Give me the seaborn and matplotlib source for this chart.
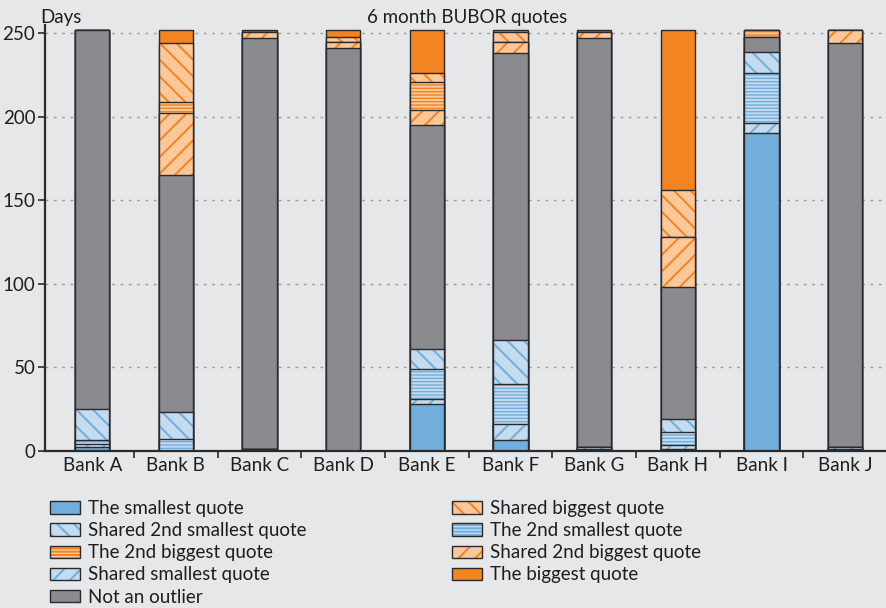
import numpy as np
import pandas as pd
import matplotlib
matplotlib.use("Agg")
import matplotlib.pyplot as plt
from matplotlib.patches import Patch
from matplotlib.ticker import FixedLocator
import seaborn as sns

# Days per bank in each quote category (bottom to top of the stack)
banks = ["Bank A", "Bank B", "Bank C", "Bank D", "Bank E",
         "Bank F", "Bank G", "Bank H", "Bank I", "Bank J"]
smallest = [2, 0, 1, 0, 28, 6, 1, 1, 190, 1]
shared_smallest = [2, 0, 0, 0, 3, 10, 1, 2, 6, 1]
second_smallest = [2, 7, 0, 0, 18, 24, 0, 8, 30, 0]
shared_second_smallest = [19, 16, 0, 0, 12, 26, 0, 8, 13, 0]
not_outlier = [227, 142, 246, 241, 134, 172, 245, 79, 9, 242]
shared_second_biggest = [0, 37, 4, 4, 9, 7, 4, 30, 0, 8]
second_biggest = [0, 7, 0, 0, 17, 0, 0, 0, 4, 0]
shared_biggest = [0, 35, 0, 3, 5, 6, 0, 28, 0, 0]
biggest = [0, 8, 1, 4, 26, 1, 1, 96, 0, 0]

y_ticks = [0, 50, 100, 150, 200, 250]

BG = "#E6E7E9"
EDGE = "#2A2A2C"
BLUE = "#72AEDB"
LIGHT_BLUE = "#C4DBF0"
ORANGE = "#F28421"
LIGHT_ORANGE = "#FCC899"
GRAY = "#8A8B8F"

STRIPES = "-----"
DIAG_LW = 1.4
STRIPE_LW = 1.0

# (label, values, fill colour, hatch colour, hatch) from bottom to top
layers = [
    ("The smallest quote", smallest, BLUE, BLUE, None),
    ("Shared smallest quote", shared_smallest, LIGHT_BLUE, BLUE, "//"),
    ("The 2nd smallest quote", second_smallest, LIGHT_BLUE, BLUE, STRIPES),
    ("Shared 2nd smallest quote", shared_second_smallest, LIGHT_BLUE, BLUE, "\\\\"),
    ("Not an outlier", not_outlier, GRAY, GRAY, None),
    ("Shared 2nd biggest quote", shared_second_biggest, LIGHT_ORANGE, ORANGE, "//"),
    ("The 2nd biggest quote", second_biggest, LIGHT_ORANGE, ORANGE, STRIPES),
    ("Shared biggest quote", shared_biggest, LIGHT_ORANGE, ORANGE, "\\\\"),
    ("The biggest quote", biggest, ORANGE, ORANGE, None),
]


def hatch_lw(hatch):
    return STRIPE_LW if hatch == STRIPES else DIAG_LW


sns.set_theme(style="white")
plt.rcParams["font.family"] = ["Lato", "DejaVu Sans"]
plt.rcParams["hatch.linewidth"] = DIAG_LW
FS = 13.5
FS_PX = FS * 100 / 72

fig = plt.figure(figsize=(8.87, 6.08), dpi=100, facecolor=BG)
ax = fig.add_axes([45 / 887, (608 - 450.5) / 608, 1 - 45 / 887, (450.5 - 25) / 608])
ax.set_facecolor(BG)

BAR_W = 0.41
cum = np.cumsum(np.array([l[1] for l in layers], dtype=float), axis=0)

# Stack by drawing cumulative totals from the top layer down
for i in reversed(range(len(layers))):
    label, vals, face, hcol, hatch = layers[i]
    df = pd.DataFrame({"bank": banks, "days": cum[i]})
    with plt.rc_context({"hatch.linewidth": hatch_lw(hatch)}):
        sns.barplot(data=df, x="bank", y="days", order=banks, color=face,
                    saturation=1, width=BAR_W, errorbar=None, hatch=hatch,
                    edgecolor=hcol, linewidth=0, ax=ax)
    sns.barplot(data=df, x="bank", y="days", order=banks, color=EDGE,
                saturation=1, width=BAR_W, errorbar=None, fill=False,
                edgecolor=EDGE, linewidth=1.0, ax=ax)

ax.set_xlim(-0.565, 9.5)
ax.set_ylim(0, 255)
ax.set_yticks(y_ticks)
ax.set_xlabel("")
ax.set_ylabel("")
ax.set_axisbelow(True)
ax.yaxis.grid(True, linestyle=(0, (2, 4)), color="#9C9C9E", linewidth=1.0)
ax.xaxis.grid(False)

for side in ["top", "right"]:
    ax.spines[side].set_visible(False)
for side in ["left", "bottom"]:
    ax.spines[side].set_color(EDGE)
    ax.spines[side].set_linewidth(1.6)

ax.tick_params(axis="y", which="major", length=5, width=1.2, color=EDGE,
               labelsize=FS, pad=2, left=True, labelcolor="#1E1E1E")
ax.tick_params(axis="x", which="major", length=0, labelsize=FS, pad=5,
               labelcolor="#1E1E1E")
ax.xaxis.set_minor_locator(FixedLocator(np.arange(0.5, 9.6, 1.0)))
ax.tick_params(axis="x", which="minor", length=5, width=1.2, color=EDGE,
               bottom=True)

fig.text(467 / 887, 1 - 17 / 608, "6 month BUBOR quotes", ha="center",
         va="center", fontsize=FS, color="#1E1E1E")
fig.text(40 / 887, 1 - 17 / 608, "Days", ha="left", va="center",
         fontsize=FS, color="#1E1E1E")

# Legend: two columns, filled column by column
legend_order = [0, 3, 6, 1, 4, 7, 2, 5, 8]
handles, labels = [], []
for idx in legend_order:
    label, vals, face, hcol, hatch = layers[idx]
    with plt.rc_context({"hatch.linewidth": hatch_lw(hatch)}):
        swatch = Patch(facecolor=face, edgecolor=hcol, hatch=hatch, linewidth=0)
    handles.append((swatch, Patch(facecolor="none", edgecolor=EDGE, linewidth=1.0)))
    labels.append(label)

fig.legend(handles, labels, loc="upper left",
           bbox_to_anchor=(50 / 887, 1 - 500 / 608), ncol=2, frameon=False,
           fontsize=FS, handlelength=30 / FS_PX, handleheight=12 / FS_PX,
           handletextpad=8 / FS_PX, labelspacing=0.275, columnspacing=7.75,
           borderpad=0, borderaxespad=0, labelcolor="#1E1E1E")

fig.savefig("out.png", dpi=100, facecolor=BG)
